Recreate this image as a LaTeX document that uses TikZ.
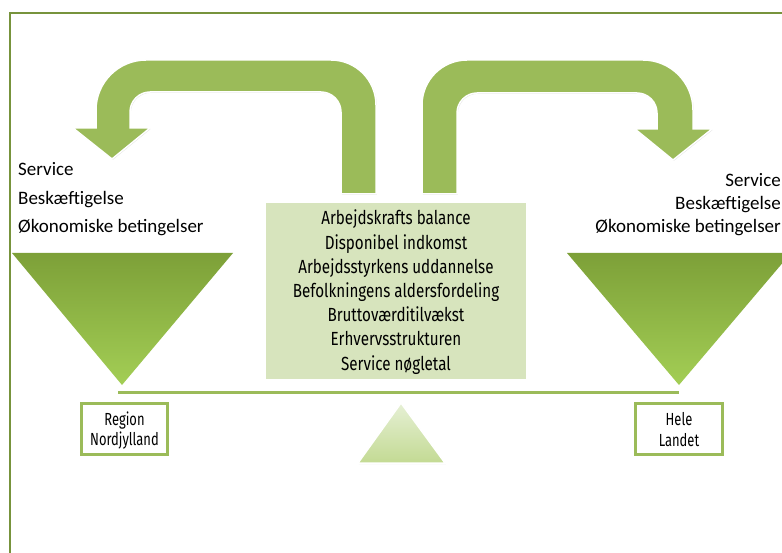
\documentclass[tikz,border=0pt]{standalone}
\usepackage{fontspec}
\setmainfont{Carlito}
\newfontfamily\agency[FakeStretch=0.8]{Fira Sans}
\newfontfamily\agencyb[FakeStretch=0.74]{Fira Sans}
\usetikzlibrary{shadows}
\definecolor{framecol}{HTML}{77933C}
\definecolor{olive}{HTML}{9BBB59}
\definecolor{boxfill}{HTML}{D7E4BD}
\definecolor{tritop}{HTML}{7DA038}
\definecolor{tribot}{HTML}{A3CE55}
\definecolor{smalltop}{HTML}{E6F0D5}
\definecolor{smallbot}{HTML}{C3DA93}
\begin{document}
\begin{tikzpicture}[x=1pt,y=-1pt,
  bigarrow/.style={fill=olive, draw=white, line width=1.5pt,
    drop shadow={shadow xshift=0.8pt, shadow yshift=-0.8pt, opacity=0.25}},
  bigtri/.style={top color=tritop, bottom color=tribot},
  smalltri/.style={top color=smalltop, bottom color=smallbot, draw=white, line width=1.5pt,
    drop shadow={shadow xshift=0.8pt, shadow yshift=-1pt, opacity=0.25}},
  cbox/.style={fill=boxfill, draw=white, line width=1.5pt, inner sep=0pt,
    drop shadow={shadow xshift=1pt, shadow yshift=-1.2pt, opacity=0.3}},
  regbox/.style={fill=white, draw=olive, line width=2.4pt, inner sep=0pt},
  ctext/.style={font=\agency\fontsize{19}{24}\selectfont, anchor=base, inner sep=0pt},
  btext/.style={font=\agencyb\fontsize{17.5}{20}\selectfont, anchor=base, inner sep=0pt},
  ltext/.style={font=\fontsize{19}{22}\selectfont, inner sep=0pt}
]
\useasboundingbox (0,0) rectangle (782,553);
\clip (0,0) rectangle (782,553);
\fill[white] (0,0) rectangle (782,553);

% frame
\draw[framecol, line width=2.5pt] (10,570) -- (10,13) -- (800,13);

% bent arrows
\path[bigarrow] (376,194) -- (376,105) .. controls (376,80.1) and (355.9,60) .. (331,60)
  -- (146,60) .. controls (118.4,60) and (96,82.4) .. (96,110)
  -- (96,128) -- (73,128) -- (112,159) -- (150,128) -- (130,128)
  -- (130,112) .. controls (130,101) and (139,92) .. (150,92)
  -- (321,92) .. controls (332,92) and (341,101) .. (341,112)
  -- (341,194) -- cycle;
\path[bigarrow] (422,194) -- (422,105) .. controls (422,80.1) and (442.1,60) .. (467,60)
  -- (643,60) .. controls (670.6,60) and (693,82.4) .. (693,110)
  -- (693,129) -- (712,129) -- (673,160) -- (635,129) -- (657,129)
  -- (657,113) .. controls (657,102) and (648,93) .. (637,93)
  -- (477,93) .. controls (466,93) and (457,102) .. (457,113)
  -- (457,194) -- cycle;

% big triangles
\shade[bigtri] (12,253) -- (233,253) -- (122,385) -- cycle;
\shade[bigtri] (567,253) -- (791,253) -- (679,385) -- cycle;

% balance beam
\draw[olive, line width=3pt] (118,392) -- (679,392);

% fulcrum
\path[smalltri] (401,403) -- (445,463) -- (358,463) -- cycle;

% central box
\node[cbox, minimum width=262pt, minimum height=178pt] (center) at (396,291) {};
\foreach \t [count=\i] in {Arbejdskrafts balance, Disponibel indkomst,
  Arbejdsstyrkens uddannelse, Befolkningens aldersfordeling,
  Bruttoværditilvækst, Erhvervsstrukturen, Service nøgletal}
  \node[ctext] (c\i) at (396,{225+24.2*(\i-1)}) {\t};

% left texts
\node[ltext, anchor=base west] (l1) at (18,176) {Service};
\node[ltext, anchor=base west] (l2) at (18,205) {Beskæftigelse};
\node[ltext, anchor=base west] (l3) at (18,233) {Økonomiske betingelser};

% right texts
\node[ltext, anchor=base east] (r1) at (781,187) {Service};
\node[ltext, anchor=base east] (r2) at (781,210) {Beskæftigelse};
\node[ltext, anchor=base east] (r3) at (781,233) {Økonomiske betingelser};

% region boxes
\node[regbox, minimum width=86pt, minimum height=51pt] (reg) at (124.5,429) {};
\node[btext] (reg1) at (124.5,425) {Region};
\node[btext] (reg2) at (124.5,445) {Nordjylland};
\node[regbox, minimum width=87pt, minimum height=51pt] (land) at (679,429) {};
\node[btext] (land1) at (679,425) {Hele};
\node[btext] (land2) at (679,446) {Landet};
\end{tikzpicture}
\end{document}
